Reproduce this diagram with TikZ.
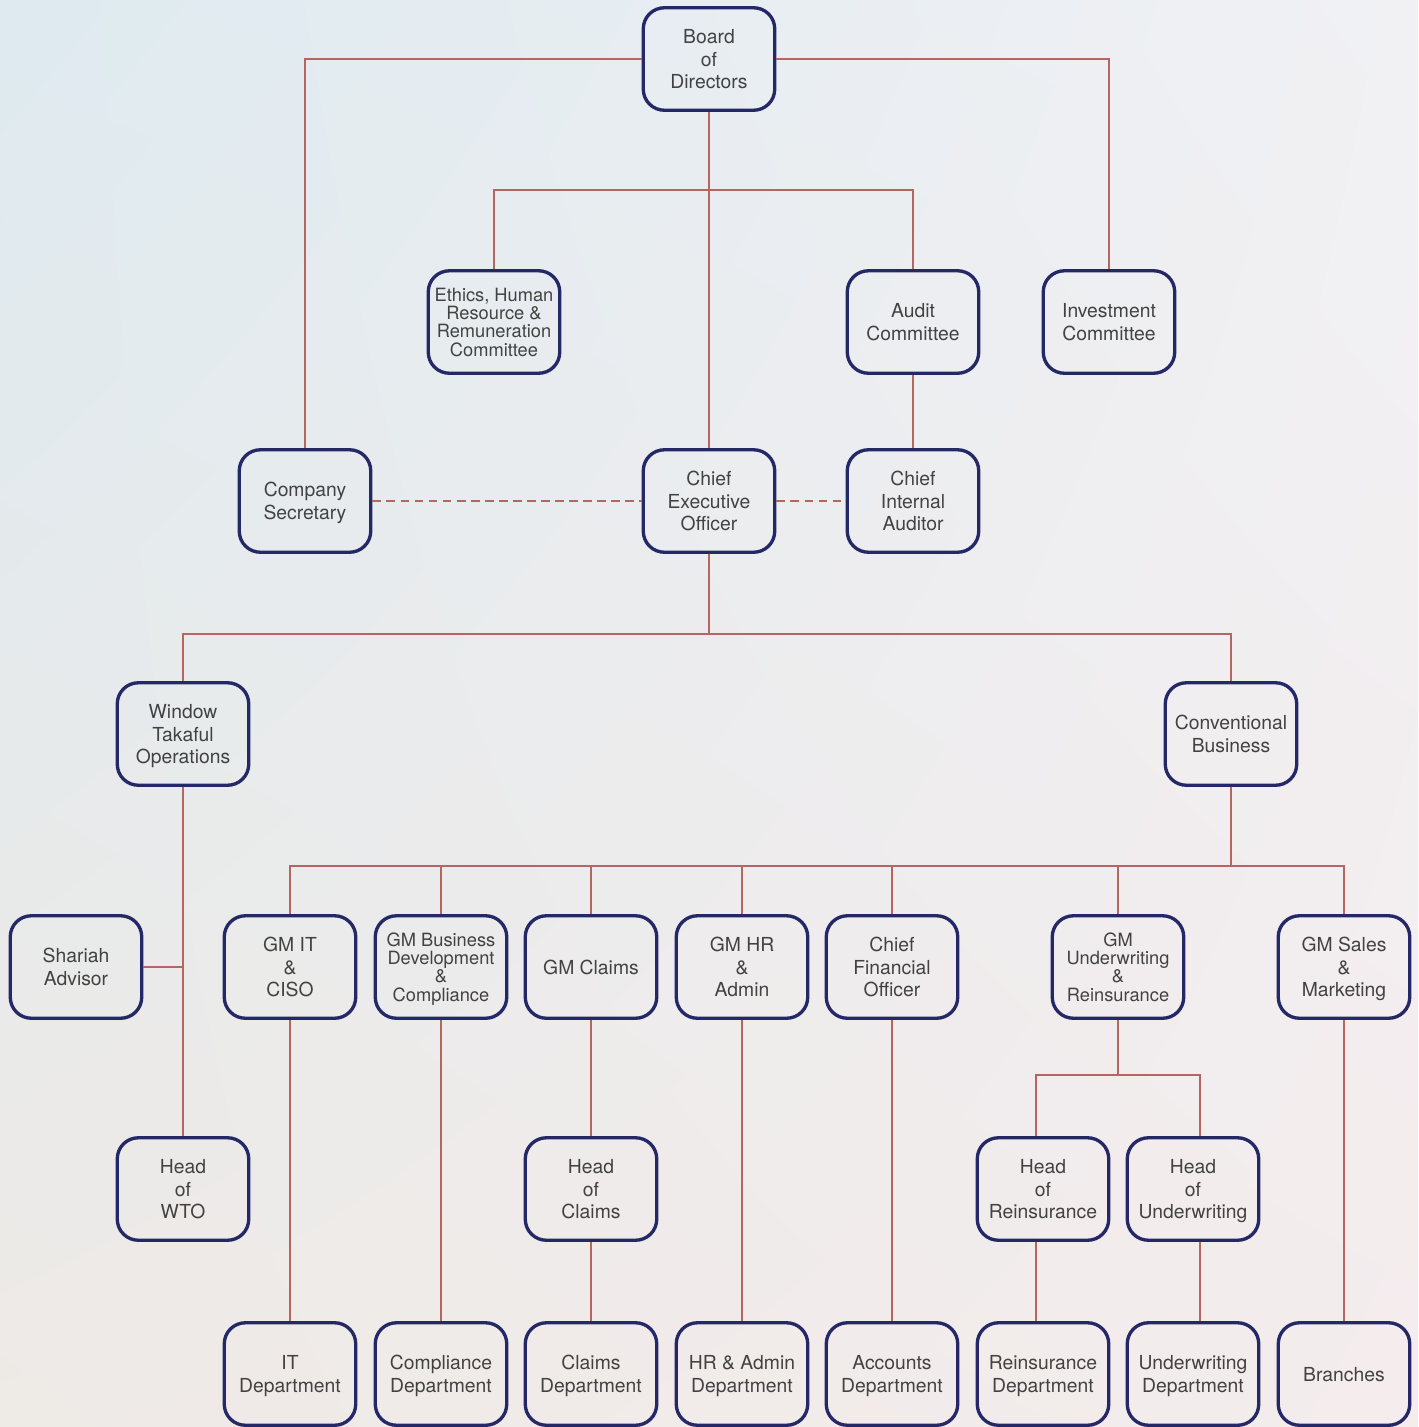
\documentclass[tikz,border=0pt]{standalone}
\usepackage{fontspec}
\setmainfont{TeX Gyre Heros}
\usepackage{tikz}
\usetikzlibrary{shapes, positioning, calc, shadings}
\definecolor{boxnavy}{RGB}{36, 40, 102}
\definecolor{linkred}{RGB}{181, 102, 96}
\definecolor{textgray}{RGB}{66, 66, 66}
\definecolor{bgblue}{RGB}{222, 234, 240}
\definecolor{bggray}{RGB}{241, 241, 244}
\definecolor{bgsand}{RGB}{238, 234, 230}
\definecolor{bgpink}{RGB}{244, 236, 237}
\tikzset{
  orgbox/.style={draw=boxnavy, line width=1.9pt, rounded corners=12pt, minimum width=2.63cm, minimum height=2.05cm, inner sep=1pt, text depth=0pt, align=center, text=textgray, font=\fontsize{11}{12.8}\selectfont},
  orgboxtight/.style={orgbox, font=\fontsize{10.4}{10.4}\selectfont},
  link/.style={linkred, line width=1.1pt},
  dashlink/.style={link, dash pattern=on 5pt off 3pt}
}
\begin{document}
\begin{tikzpicture}[x=0.02cm, y=-0.02cm]
    \shade[upper left=bgblue, upper right=bggray, lower left=bgsand, lower right=bgpink] (0,0) rectangle (1418,1427);
    \useasboundingbox (0,0) rectangle (1418,1427);

    \node (board) [orgbox] at (709,59) {Board\\of\\Directors};
    \node (ethics) [orgboxtight] at (494,322) {Ethics, Human\\Resource \&\\Remuneration\\Committee};
    \node (audit) [orgbox] at (913,322) {Audit\\Committee};
    \node (invest) [orgbox] at (1109,322) {Investment\\Committee};
    \node (secretary) [orgbox] at (305,501) {Company\\Secretary};
    \node (ceo) [orgbox] at (709,501) {Chief\\Executive\\Officer};
    \node (cia) [orgbox] at (913,501) {Chief\\Internal\\Auditor};
    \node (wto) [orgbox] at (183,734) {Window\\Takaful\\Operations};
    \node (conv) [orgbox] at (1231,734) {Conventional\\Business};

    \node (shariah) [orgbox] at (76,967) {Shariah\\Advisor};
    \node (gmit) [orgbox] at (290,967) {GM IT\\\&\\CISO};
    \node (gmbd) [orgboxtight] at (441,967) {GM Business\\Development\\\&\\Compliance};
    \node (gmclaims) [orgbox] at (591,967) {GM Claims};
    \node (gmhr) [orgbox] at (742,967) {GM HR\\\&\\Admin};
    \node (cfo) [orgbox] at (892,967) {Chief\\Financial\\Officer};
    \node (gmuw) [orgboxtight] at (1118,967) {GM\\Underwriting\\\&\\Reinsurance};
    \node (gmsales) [orgbox] at (1344,967) {GM Sales\\\&\\Marketing};

    \node (headwto) [orgbox] at (183,1189) {Head\\of\\WTO};
    \node (headclaims) [orgbox] at (591,1189) {Head\\of\\Claims};
    \node (headre) [orgbox] at (1043,1189) {Head\\of\\Reinsurance};
    \node (headuw) [orgbox] at (1193,1189) {Head\\of\\Underwriting};

    \node (itdept) [orgbox] at (290,1374) {IT\\Department};
    \node (compdept) [orgbox] at (441,1374) {Compliance\\Department};
    \node (claimsdept) [orgbox] at (591,1374) {Claims\\Department};
    \node (hrdept) [orgbox] at (742,1374) {HR \& Admin\\Department};
    \node (accdept) [orgbox] at (892,1374) {Accounts\\Department};
    \node (redept) [orgbox] at (1043,1374) {Reinsurance\\Department};
    \node (uwdept) [orgbox] at (1193,1374) {Underwriting\\Department};
    \node (branches) [orgbox] at (1344,1374) {Branches};

    \coordinate (boardsplit) at (709,190);
    \coordinate (ceosplit) at (709,634);
    \coordinate (convsplit) at (1231,866);
    \coordinate (uwsplit) at (1118,1075);

    \draw[link] (board.west) -| (secretary.north);
    \draw[link] (board.east) -| (invest.north);
    \draw[link] (board) -- (ceo);
    \draw[link] (boardsplit) -| (ethics.north);
    \draw[link] (boardsplit) -| (audit.north);
    \draw[link] (audit) -- (cia);
    \draw[dashlink] (secretary) -- (ceo);
    \draw[dashlink] (ceo) -- (cia);

    \draw[link] (ceo) -- (ceosplit);
    \draw[link] (ceosplit) -| (wto.north);
    \draw[link] (ceosplit) -| (conv.north);
    \draw[link] (wto) -- (headwto);
    \draw[link] (shariah.east) -- (shariah.east -| wto.south);

    \draw[link] (conv) -- (convsplit);
    \foreach \gm in {gmit, gmbd, gmclaims, gmhr, cfo, gmuw, gmsales}
        \draw[link] (convsplit) -| (\gm.north);

    \draw[link] (gmit) -- (itdept);
    \draw[link] (gmbd) -- (compdept);
    \draw[link] (gmclaims) -- (headclaims);
    \draw[link] (headclaims) -- (claimsdept);
    \draw[link] (gmhr) -- (hrdept);
    \draw[link] (cfo) -- (accdept);
    \draw[link] (gmsales) -- (branches);

    \draw[link] (gmuw) -- (uwsplit);
    \draw[link] (uwsplit) -| ([xshift=-0.14cm]headre.north);
    \draw[link] (uwsplit) -| ([xshift=0.14cm]headuw.north);
    \draw[link] ([xshift=-0.14cm]headre.south) -- ([xshift=-0.14cm]redept.north);
    \draw[link] ([xshift=0.14cm]headuw.south) -- ([xshift=0.14cm]uwdept.north);
\end{tikzpicture}
\end{document}
